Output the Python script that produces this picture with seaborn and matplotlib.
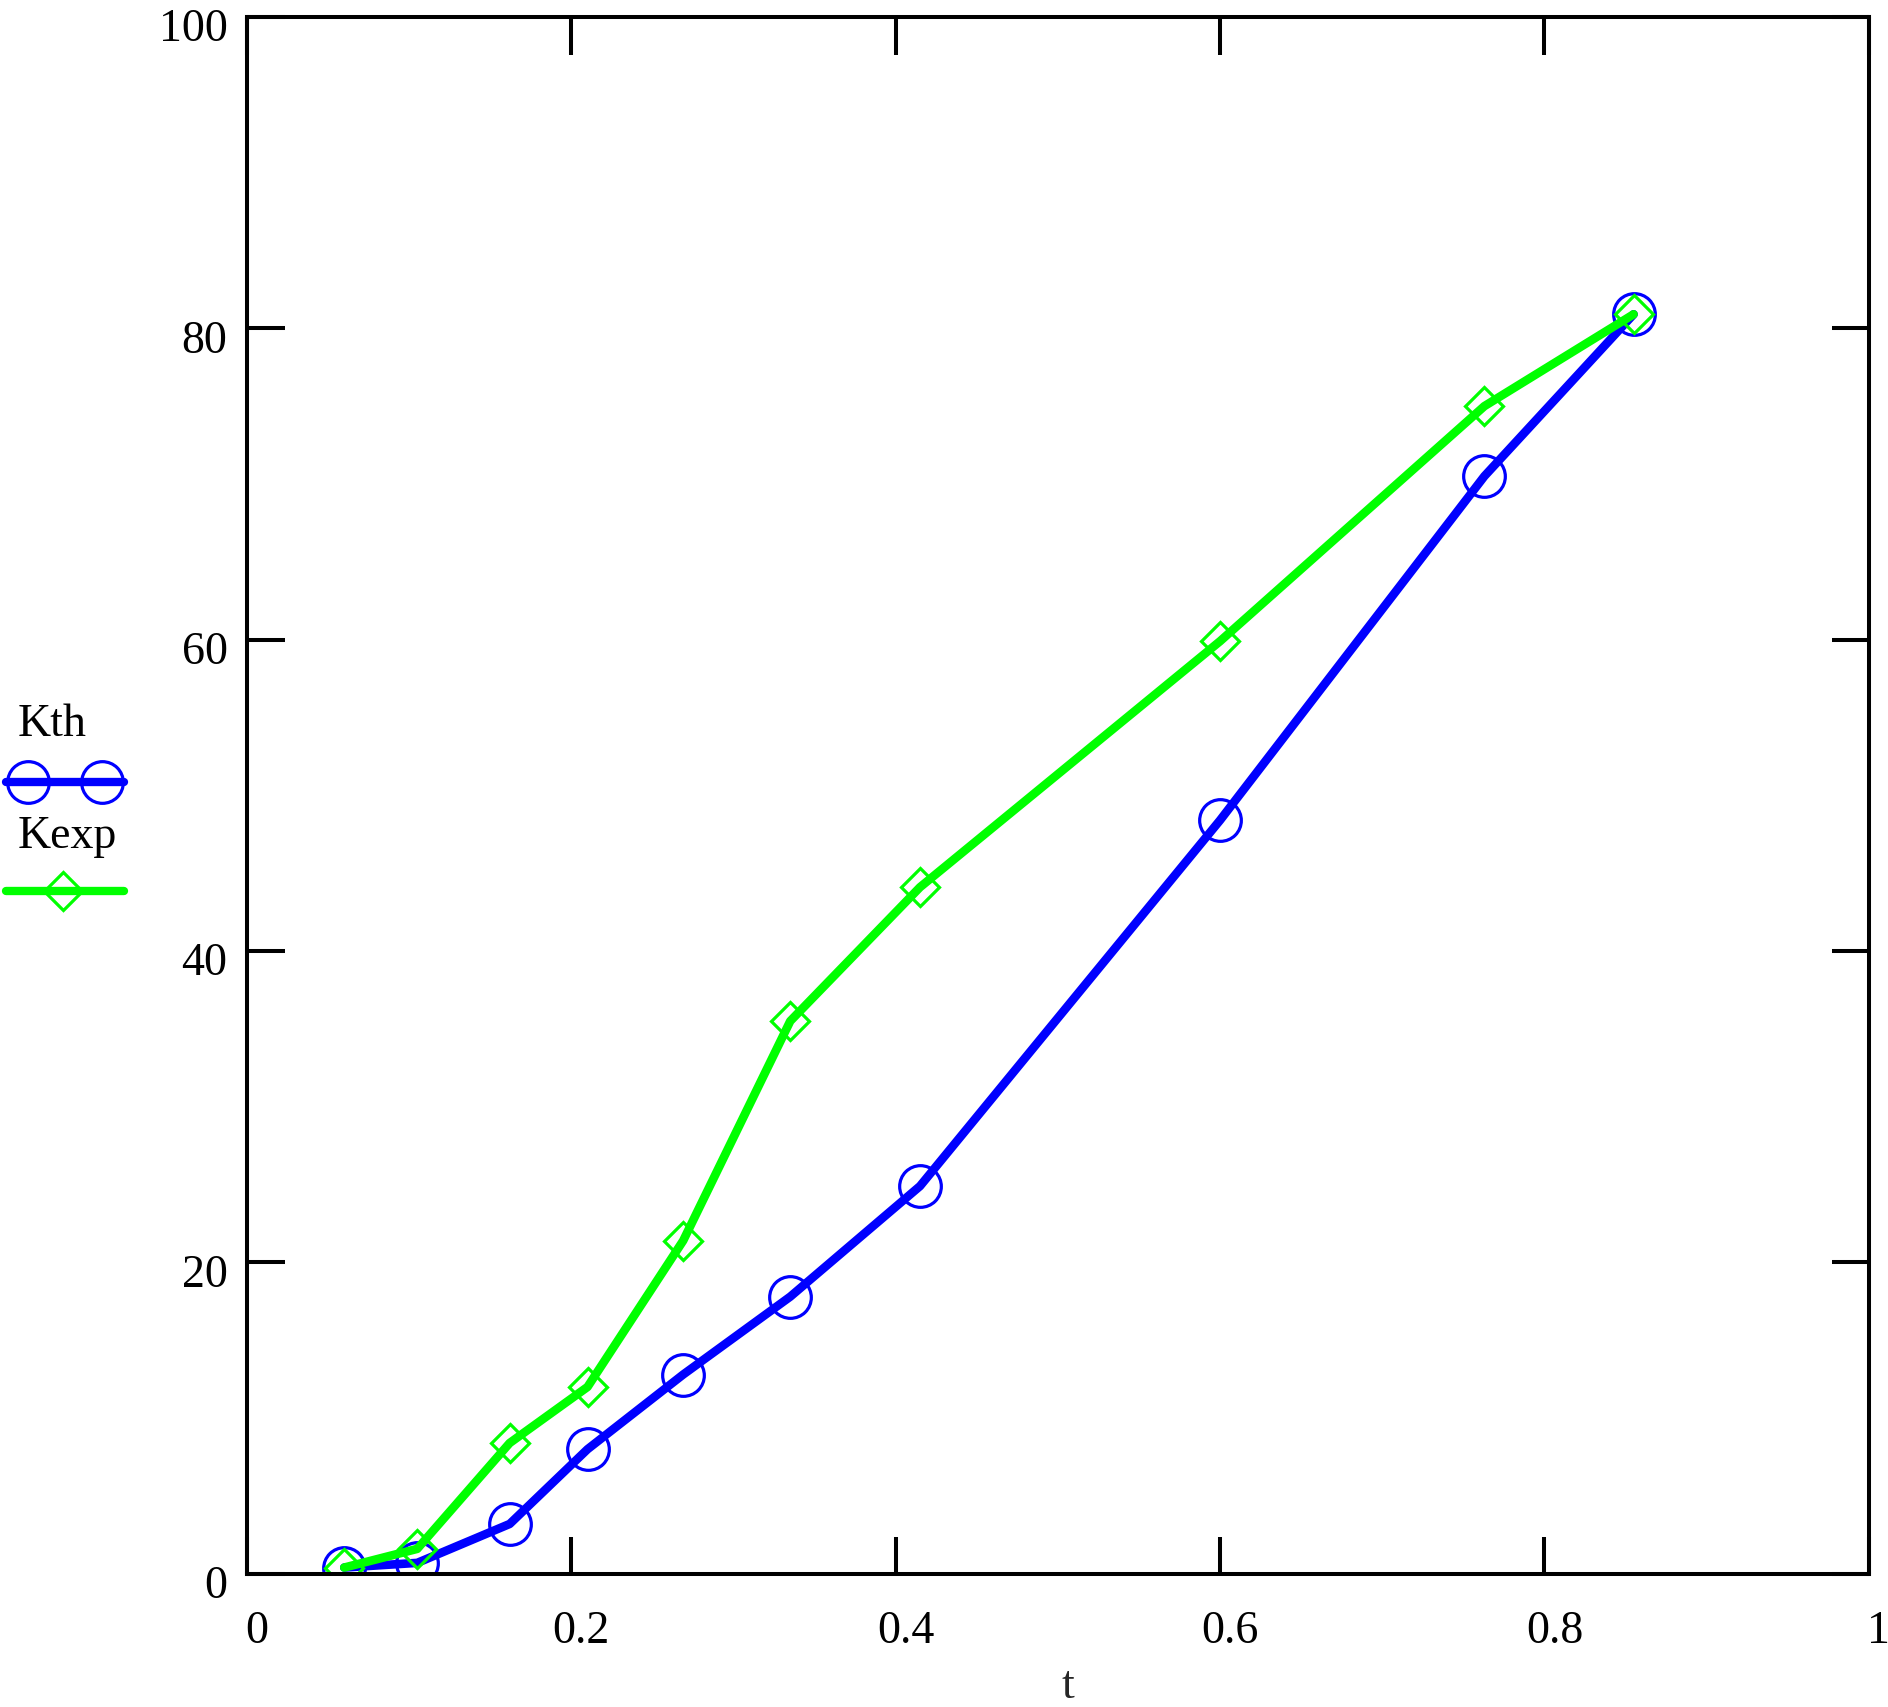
import numpy as np
import pandas as pd
import matplotlib
matplotlib.use("Agg")
import matplotlib.pyplot as plt
import matplotlib.transforms as mtransforms
from matplotlib.lines import Line2D
import seaborn as sns

# Werte
t_vals = [0.06, 0.105, 0.162, 0.21, 0.269, 0.335, 0.415, 0.6, 0.763, 0.855]
k_th = [0.4, 0.7, 3.2, 8.0, 12.8, 17.8, 24.9, 48.4, 70.5, 80.9]
k_exp = [0.4, 1.6, 8.4, 12.0, 21.4, 35.5, 44.1, 59.9, 75.0, 80.9]

x_ticks = [0, 0.2, 0.4, 0.6, 0.8, 1]
x_labels = ["0", "0.2", "0.4", "0.6", "0.8", "1"]
y_ticks = [0, 20, 40, 60, 80, 100]
y_labels = ["0", "20", "40", "60", "80", "100"]

BLUE = "#0000ff"
GREEN = "#00ff00"

sns.set_style("white")
plt.rcParams["font.family"] = ["Liberation Serif", "DejaVu Serif"]
plt.rcParams["text.color"] = "black"
plt.rcParams["xtick.color"] = "black"
plt.rcParams["ytick.color"] = "black"

df = pd.DataFrame({"t": t_vals, "Kth": k_th, "Kexp": k_exp})

fig = plt.figure(figsize=(18.88, 17.08), dpi=100)
ax = fig.add_axes([0.1308, 0.078, 0.859, 0.9115])

sns.lineplot(data=df, x="t", y="Kth", ax=ax, color=BLUE, linewidth=6.2,
             marker="o", markersize=30, markerfacecolor="none",
             markeredgecolor=BLUE, markeredgewidth=2.3, sort=False)
sns.lineplot(data=df, x="t", y="Kexp", ax=ax, color=GREEN, linewidth=6.2,
             marker="D", markersize=19, markerfacecolor="none",
             markeredgecolor=GREEN, markeredgewidth=2.3, sort=False)

ax.set_xlim(0, 1)
ax.set_ylim(0, 100)
ax.set_xticks(x_ticks)
ax.set_xticklabels(x_labels)
ax.set_yticks(y_ticks)
ax.set_yticklabels(y_labels)
ax.set_xlabel("t", fontsize=33, labelpad=9)
ax.set_ylabel("")

for sp in ax.spines.values():
    sp.set_visible(True)
    sp.set_color("black")
    sp.set_linewidth(2.9)

ax.tick_params(axis="both", direction="in", length=27, width=2.9,
               labelsize=33, top=True, right=True, bottom=True, left=True,
               color="black", labelcolor="black")
ax.tick_params(axis="x", pad=26)
ax.tick_params(axis="y", pad=14)

# Mathcad setzt die Beschriftungen leicht versetzt
off_x = mtransforms.ScaledTranslation(10 / 100, 0, fig.dpi_scale_trans)
for lbl in ax.get_xticklabels():
    lbl.set_transform(lbl.get_transform() + off_x)
off_y = mtransforms.ScaledTranslation(0, -7 / 100, fig.dpi_scale_trans)
for lbl in ax.get_yticklabels():
    lbl.set_transform(lbl.get_transform() + off_y)
ax.xaxis.label.set_transform(ax.xaxis.label.get_transform() + off_x)

# Legende links, Name über dem Linienmuster
W, H = 1888, 1708
fig.text(18 / W, 1 - 725 / H, "Kth", fontsize=33, ha="left", va="center")
fig.add_artist(Line2D([6 / W, 124 / W], [1 - 783 / H] * 2, color=BLUE,
                      linewidth=6, solid_capstyle="round"))
fig.add_artist(Line2D([28 / W, 102 / W], [1 - 783 / H] * 2, linestyle="none",
                      marker="o", markersize=30, markerfacecolor="none",
                      markeredgecolor=BLUE, markeredgewidth=2.3))
fig.text(18 / W, 1 - 837 / H, "Kexp", fontsize=33, ha="left", va="center")
fig.add_artist(Line2D([6 / W, 124 / W], [1 - 892 / H] * 2, color=GREEN,
                      linewidth=6, solid_capstyle="round"))
fig.add_artist(Line2D([63 / W], [1 - 892 / H], linestyle="none",
                      marker="D", markersize=19, markerfacecolor="none",
                      markeredgecolor=GREEN, markeredgewidth=2.3))

fig.savefig("out.png", dpi=100)
plt.close(fig)
